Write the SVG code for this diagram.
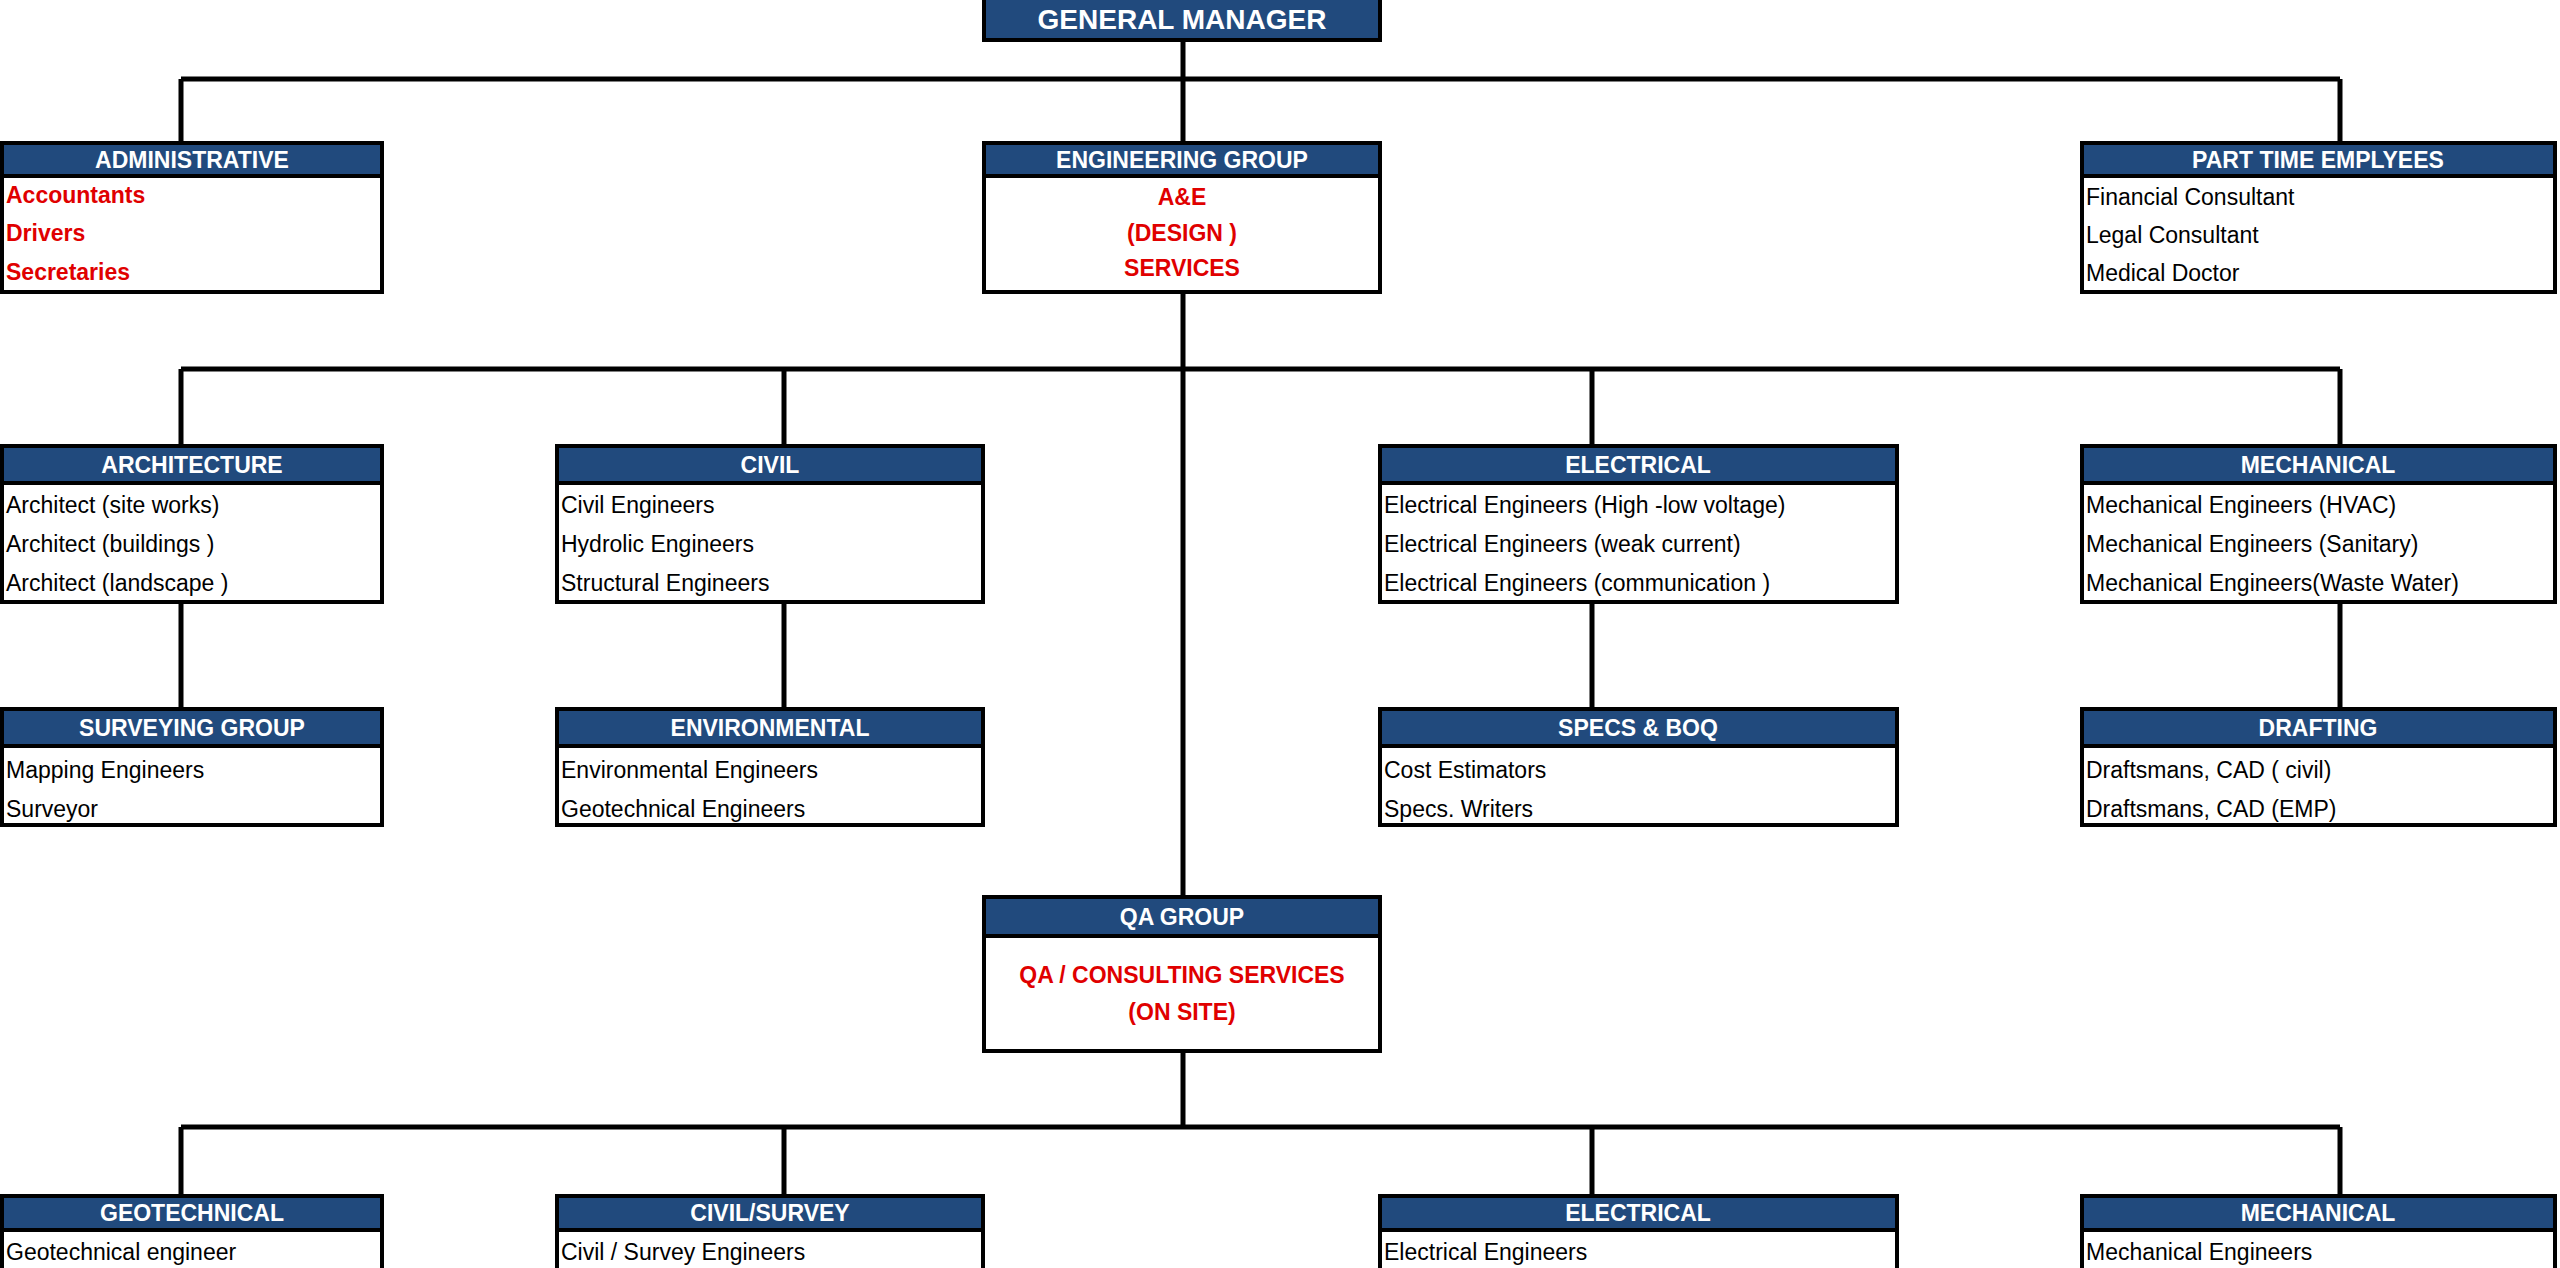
<svg xmlns="http://www.w3.org/2000/svg" width="2560" height="1268" viewBox="0 0 2560 1268">
<style>
.box{fill:#fff;stroke:#000;stroke-width:4}
.hd{fill:#214A7D;stroke:#000;stroke-width:4}
.ht{font-family:"Liberation Sans",Arial,sans-serif;font-weight:bold;font-size:23px;fill:#fff;text-anchor:middle}
.t{font-family:"Liberation Sans",Arial,sans-serif;font-size:23px;fill:#000}
.r{font-family:"Liberation Sans",Arial,sans-serif;font-weight:bold;font-size:23px;fill:#E00000}
.c{text-anchor:middle}
.ln{stroke:#000;stroke-width:5;fill:none}
</style>
<g id="connectors">
<path class="ln" d="M1183 40V79M181 79H2340M181 79V143M1183 79V143M2340 79V143"/>
<path class="ln" d="M1183 292V897M181 369H2340M181 369V446M784 369V446M1592 369V446M2340 369V446"/>
<path class="ln" d="M181 602V709M784 602V709M1592 602V709M2340 602V709"/>
<path class="ln" d="M1183 1051V1127M181 1127H2340M181 1127V1196M784 1127V1196M1592 1127V1196M2340 1127V1196"/>
</g>
<g id="gm"><rect class="hd" x="984" y="-4" width="396" height="44"/><text class="ht" x="1182" y="29" style="font-size:28px">GENERAL MANAGER</text></g>
<g id="admin"><rect class="box" x="2" y="143" width="380" height="149"/><rect class="hd" x="2" y="143" width="380" height="33"/><text class="ht" x="192" y="168">ADMINISTRATIVE</text>
<text class="r" x="6" y="203">Accountants</text><text class="r" x="6" y="241">Drivers</text><text class="r" x="6" y="280">Secretaries</text></g>
<g id="eng"><rect class="box" x="984" y="143" width="396" height="149"/><rect class="hd" x="984" y="143" width="396" height="33"/><text class="ht" x="1182" y="168">ENGINEERING GROUP</text>
<text class="r c" x="1182" y="205">A&amp;E</text><text class="r c" x="1182" y="241">(DESIGN )</text><text class="r c" x="1182" y="276">SERVICES</text></g>
<g id="parttime"><rect class="box" x="2082" y="143" width="473" height="149"/><rect class="hd" x="2082" y="143" width="473" height="33"/><text class="ht" x="2318" y="168">PART TIME EMPLYEES</text>
<text class="t" x="2086" y="205">Financial Consultant</text><text class="t" x="2086" y="243">Legal Consultant</text><text class="t" x="2086" y="281">Medical Doctor</text></g>
<g id="arch"><rect class="box" x="2" y="446" width="380" height="156"/><rect class="hd" x="2" y="446" width="380" height="37"/><text class="ht" x="192" y="473">ARCHITECTURE</text>
<text class="t" x="6" y="513">Architect (site works)</text><text class="t" x="6" y="552">Architect (buildings )</text><text class="t" x="6" y="591">Architect (landscape )</text></g>
<g id="civil"><rect class="box" x="557" y="446" width="426" height="156"/><rect class="hd" x="557" y="446" width="426" height="37"/><text class="ht" x="770" y="473">CIVIL</text>
<text class="t" x="561" y="513">Civil Engineers</text><text class="t" x="561" y="552">Hydrolic Engineers</text><text class="t" x="561" y="591">Structural Engineers</text></g>
<g id="elec"><rect class="box" x="1380" y="446" width="517" height="156"/><rect class="hd" x="1380" y="446" width="517" height="37"/><text class="ht" x="1638" y="473">ELECTRICAL</text>
<text class="t" x="1384" y="513">Electrical Engineers (High -low voltage)</text><text class="t" x="1384" y="552">Electrical Engineers (weak current)</text><text class="t" x="1384" y="591">Electrical Engineers (communication )</text></g>
<g id="mech"><rect class="box" x="2082" y="446" width="473" height="156"/><rect class="hd" x="2082" y="446" width="473" height="37"/><text class="ht" x="2318" y="473">MECHANICAL</text>
<text class="t" x="2086" y="513">Mechanical Engineers (HVAC)</text><text class="t" x="2086" y="552">Mechanical Engineers (Sanitary)</text><text class="t" x="2086" y="591">Mechanical Engineers(Waste Water)</text></g>
<g id="survey"><rect class="box" x="2" y="709" width="380" height="116"/><rect class="hd" x="2" y="709" width="380" height="37"/><text class="ht" x="192" y="736">SURVEYING GROUP</text>
<text class="t" x="6" y="778">Mapping Engineers</text><text class="t" x="6" y="817">Surveyor</text></g>
<g id="env"><rect class="box" x="557" y="709" width="426" height="116"/><rect class="hd" x="557" y="709" width="426" height="37"/><text class="ht" x="770" y="736">ENVIRONMENTAL</text>
<text class="t" x="561" y="778">Environmental Engineers</text><text class="t" x="561" y="817">Geotechnical Engineers</text></g>
<g id="specs"><rect class="box" x="1380" y="709" width="517" height="116"/><rect class="hd" x="1380" y="709" width="517" height="37"/><text class="ht" x="1638" y="736">SPECS &amp;  BOQ</text>
<text class="t" x="1384" y="778">Cost Estimators</text><text class="t" x="1384" y="817">Specs. Writers</text></g>
<g id="drafting"><rect class="box" x="2082" y="709" width="473" height="116"/><rect class="hd" x="2082" y="709" width="473" height="37"/><text class="ht" x="2318" y="736">DRAFTING</text>
<text class="t" x="2086" y="778">Draftsmans, CAD ( civil)</text><text class="t" x="2086" y="817">Draftsmans, CAD  (EMP)</text></g>
<g id="qa"><rect class="box" x="984" y="897" width="396" height="154"/><rect class="hd" x="984" y="897" width="396" height="39"/><text class="ht" x="1182" y="925">QA  GROUP</text>
<text class="r c" x="1182" y="983">QA / CONSULTING SERVICES</text><text class="r c" x="1182" y="1020">(ON SITE)</text></g>
<g id="geo"><rect class="box" x="2" y="1196" width="380" height="76"/><rect class="hd" x="2" y="1196" width="380" height="34"/><text class="ht" x="192" y="1221">GEOTECHNICAL</text><text class="t" x="6" y="1260">Geotechnical engineer</text></g>
<g id="civsur"><rect class="box" x="557" y="1196" width="426" height="76"/><rect class="hd" x="557" y="1196" width="426" height="34"/><text class="ht" x="770" y="1221">CIVIL/SURVEY</text><text class="t" x="561" y="1260">Civil / Survey  Engineers</text></g>
<g id="elec2"><rect class="box" x="1380" y="1196" width="517" height="76"/><rect class="hd" x="1380" y="1196" width="517" height="34"/><text class="ht" x="1638" y="1221">ELECTRICAL</text><text class="t" x="1384" y="1260">Electrical  Engineers</text></g>
<g id="mech2"><rect class="box" x="2082" y="1196" width="473" height="76"/><rect class="hd" x="2082" y="1196" width="473" height="34"/><text class="ht" x="2318" y="1221">MECHANICAL</text><text class="t" x="2086" y="1260">Mechanical  Engineers</text></g>
</svg>
